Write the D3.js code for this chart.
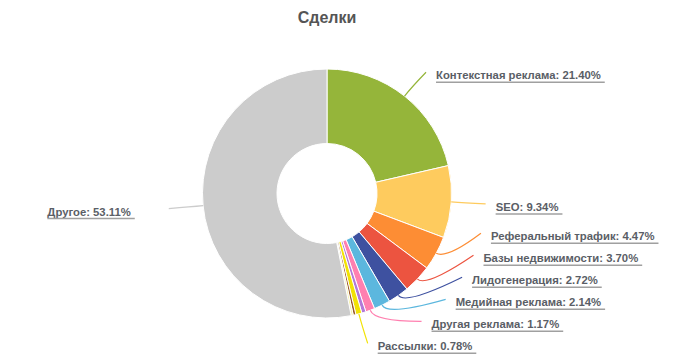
<!DOCTYPE html>
<html><head><meta charset="utf-8">
<script src="https://cdn.jsdelivr.net/npm/d3@7/dist/d3.min.js"></script>
<style>body{margin:0;background:#fff;}svg{display:block;font-family:"Liberation Sans",Arial,sans-serif;}</style>
</head><body>
<svg id="c" width="693" height="361"></svg>
<script>
const title = "Сделки";
const categories = ["Контекстная реклама","SEO","Реферальный трафик","Базы недвижимости","Лидогенерация","Медийная реклама","Другая реклама","Прочая реклама","Рассылки","Партнёры","Соцсети","Другое"];
const values = [21.40, 9.34, 4.47, 3.70, 2.72, 2.14, 1.17, 0.55, 0.78, 0.35, 0.27, 53.11];
const colors = ["#95b53a","#fecb5e","#fd8d34","#ec5440","#3e51a0","#5cb7de","#ff80b0","#b179d9","#f2e205","#9b5b2a","#f5f0a8","#cccccc"];
const showLabel = [true,true,true,true,true,true,true,false,true,false,false,true];

const svg = d3.select("#c");
const cx = 327, cy = 193.5, rOut = 124.5, rIn = 50, Rx = 159, Ry = 155;

svg.append("text").attr("x", cx).attr("y", 23).attr("text-anchor","middle")
  .attr("font-size", 16).attr("font-weight","bold").attr("fill","#555").text(title);

const data = categories.map((c,i)=>({name:c, value:values[i], color:colors[i], show:showLabel[i]}));
const pie = d3.pie().value(d=>d.value).sort(null);
const arcs = pie(data);
const arc = d3.arc().innerRadius(rIn).outerRadius(rOut);

const g = svg.append("g").attr("transform",`translate(${cx},${cy})`);
g.selectAll("path.s").data(arcs).join("path").attr("class","s")
  .attr("d", arc).attr("fill", d=>d.data.color).attr("stroke","#fff").attr("stroke-width",1);

// labels
const labs = arcs.filter(a=>a.data.show).map(a=>{
  const m = (a.startAngle+a.endAngle)/2;
  return {a, m, right: Math.sin(m) >= 0, x: Rx*Math.sin(m), y: -Ry*Math.cos(m), moved:false};
});
// resolve right side overlaps: stack from bottom upward
const right = labs.filter(l=>l.right).sort((p,q)=>q.y-p.y);
const gap = 22;
for (let i=1;i<right.length;i++){
  if (right[i].y > right[i-1].y - gap) {
    right[i].y = right[i-1].y - gap;
    right[i].moved = true;
  }
}
right.forEach(l=>{
  if (l.moved && Math.abs(l.y) < Rx) l.x = Math.sqrt(Rx*Rx - l.y*l.y);
});

labs.forEach(l=>{
  const m = l.m;
  const p0 = [rOut*Math.sin(m), -rOut*Math.cos(m)];
  const p1 = [(rOut+12)*Math.sin(m), -(rOut+12)*Math.cos(m)];
  const p2 = [l.x, l.y];
  g.append("path").attr("d", `M${p0[0]},${p0[1]}Q${p1[0]},${p1[1]} ${p2[0]},${p2[1]}`)
    .attr("fill","none").attr("stroke", l.a.data.color).attr("stroke-width",1.2);
  const tx = l.right ? l.x + 10 : l.x - 38;
  const t = g.append("text").attr("x", tx).attr("y", l.y + 7)
    .attr("text-anchor", l.right ? "start" : "end")
    .attr("font-size", 11.3).attr("font-weight","bold").attr("fill","#5a5e66")
    .text(`${l.a.data.name}: ${l.a.data.value.toFixed(2)}%`);
  const bb = t.node().getBBox();
  g.append("line").attr("x1", bb.x).attr("x2", bb.x + bb.width + 4)
    .attr("y1", l.y + 10).attr("y2", l.y + 10).attr("stroke","#a0a0a0").attr("stroke-width",1.5);
});
</script>
</body></html>
